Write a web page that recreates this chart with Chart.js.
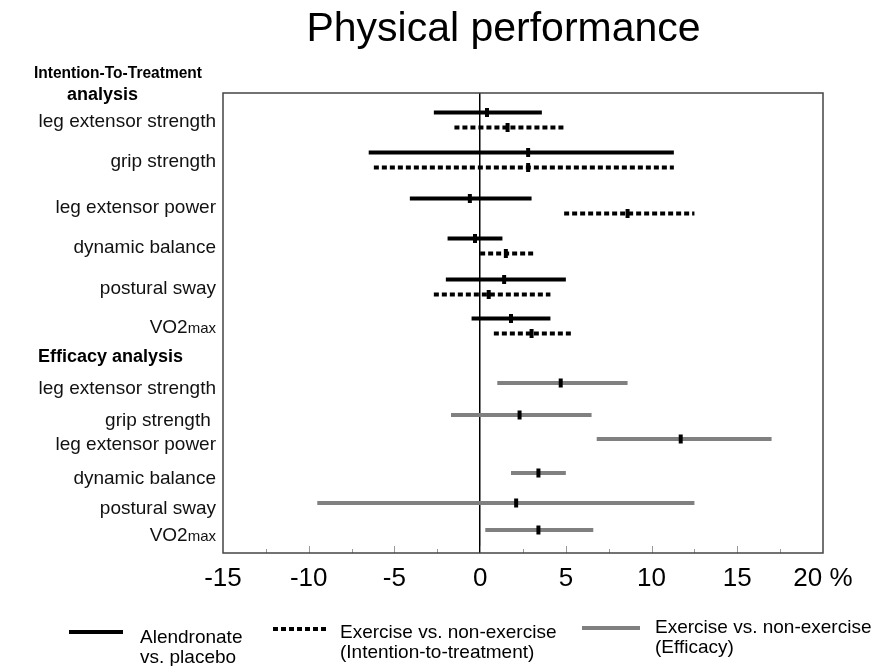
<!DOCTYPE html>
<html>
<head>
<meta charset="utf-8">
<script src="https://cdn.jsdelivr.net/npm/chart.js@4.4.0/dist/chart.umd.min.js"></script>
<style>
  body { margin: 0; background: #fff; font-family: "Liberation Sans", Arial, sans-serif; color: #000; }
  #wrap { position: relative; width: 873px; height: 666px; }
  #title { position: absolute; left: 0; top: 7px; width: 1007px; text-align: center; font-size: 41px; line-height: 41px; }
  .leg { position: absolute; font-size: 19px; line-height: 20px; white-space: nowrap; }
  .sw { position: absolute; height: 4px; }
</style>
</head>
<body>
<div id="wrap">
  <canvas id="chart" width="873" height="666"></canvas>
  <div id="title">Physical performance</div>

  <div class="sw" style="left:69px;top:630px;width:54px;background:#000;"></div>
  <div class="leg" style="left:140px;top:627px;">Alendronate<br>vs. placebo</div>

  <div class="sw" style="left:273px;top:627px;width:56px;background:repeating-linear-gradient(to right,#000 0 5px,transparent 5px 8px);"></div>
  <div class="leg" style="left:340px;top:622px;">Exercise vs. non-exercise<br>(Intention-to-treatment)</div>

  <div class="sw" style="left:582px;top:626px;width:58px;background:#808080;"></div>
  <div class="leg" style="left:655px;top:617px;">Exercise vs. non-exercise<br>(Efficacy)</div>
</div>

<script>
// rows (y slots) and labels
const itemsITT = ['leg extensor strength', 'grip strength', 'leg extensor power', 'dynamic balance', 'postural sway', 'VO2max'];
const itemsEff = ['leg extensor strength', 'grip strength ', 'leg extensor power', 'dynamic balance', 'postural sway', 'VO2max'];
const rowsITT = [2.7, 6.7, 11.3, 15.3, 19.4, 23.3];
const rowsEff = [29.0, 32.2, 34.6, 38.0, 41.0, 43.7];

// Alendronate vs. placebo (ITT), % change
const alenLow  = [-2.7, -6.5, -4.1, -1.9, -2.0, -0.5];
const alenEst  = [0.4, 2.8, -0.6, -0.3, 1.4, 1.8];
const alenHigh = [3.6, 11.3, 3.0, 1.3, 5.0, 4.1];

// Exercise vs. non-exercise (ITT)
const exIttLow  = [-1.5, -6.2, 4.9, 0.0, -2.7, 0.8];
const exIttEst  = [1.6, 2.8, 8.6, 1.5, 0.5, 3.0];
const exIttHigh = [4.9, 11.3, 12.5, 3.1, 4.1, 5.3];

// Exercise vs. non-exercise (Efficacy)
const exEffLow  = [1.0, -1.7, 6.8, 1.8, -9.5, 0.3];
const exEffEst  = [4.7, 2.3, 11.7, 3.4, 2.1, 3.4];
const exEffHigh = [8.6, 6.5, 17.0, 5.0, 12.5, 6.6];

const xTicks = [-15, -10, -5, 0, 5, 10, 15, 20];

const PAIR = 0.75; // half gap between the two ITT lines of one row
const alenRows = rowsITT.map(r => r - PAIR);
const exIttRows = rowsITT.map(r => r + PAIR);

function intervals(low, high, rows, style) {
    return low.map((lo, i) => Object.assign({
        data: [{ x: lo, y: rows[i] }, { x: high[i], y: rows[i] }],
        showLine: true,
        pointRadius: 0,
        borderWidth: 4,
        borderCapStyle: 'butt',
        fill: false
    }, style));
}

function estimates(est, rows) {
    return {
        data: est.map((v, i) => ({ x: v, y: rows[i] })),
        pointStyle: 'line',
        rotation: 90,
        pointRadius: 4.5,
        borderWidth: 4,
        borderColor: '#000',
        backgroundColor: '#000',
        showLine: false
    };
}

const datasets = [
    estimates(alenEst, alenRows),
    estimates(exIttEst, exIttRows),
    estimates(exEffEst, rowsEff),
    ...intervals(alenLow, alenHigh, alenRows, { borderColor: '#000' }),
    ...intervals(exIttLow, exIttHigh, exIttRows, { borderColor: '#000', borderDash: [5, 3] }),
    ...intervals(exEffLow, exEffHigh, rowsEff, { borderColor: '#808080' })
];

const FONT = '"Liberation Sans", Arial, sans-serif';

// frame, inward ticks, row labels and group headers
const decorPlugin = {
    id: 'decor',
    afterDraw(chart) {
        const { ctx, chartArea: a, scales: { x, y } } = chart;
        ctx.save();

        // inward tick marks
        ctx.strokeStyle = '#999';
        ctx.lineWidth = 1;
        x.ticks.forEach(t => {
            if (t.value <= x.min || t.value >= x.max) return;
            const px = Math.round(x.getPixelForValue(t.value)) + 0.5;
            const len = t.value % 5 === 0 ? 7 : 4;
            ctx.beginPath();
            ctx.moveTo(px, a.bottom);
            ctx.lineTo(px, a.bottom - len);
            ctx.stroke();
        });

        // frame
        ctx.strokeStyle = '#444';
        ctx.lineWidth = 1.5;
        ctx.strokeRect(a.left, a.top, a.right - a.left, a.bottom - a.top);

        // row labels
        ctx.fillStyle = '#111';
        ctx.textAlign = 'right';
        ctx.textBaseline = 'alphabetic';
        const right = a.left - 7;
        const drawLabel = (txt, yv) => {
            const base = y.getPixelForValue(yv) + 6;
            if (txt === 'VO2max') {
                ctx.font = '15px ' + FONT;
                ctx.fillText('max', right, base);
                const w = ctx.measureText('max').width;
                ctx.font = '19px ' + FONT;
                ctx.fillText('VO2', right - w, base);
            } else {
                ctx.font = '19px ' + FONT;
                ctx.fillText(txt, right, base);
            }
        };
        itemsITT.forEach((t, i) => drawLabel(t, rowsITT[i] + 0.1));
        itemsEff.forEach((t, i) => drawLabel(t, rowsEff[i] + 0.45));

        // headers
        ctx.textAlign = 'left';
        ctx.fillStyle = '#000';
        ctx.font = 'bold 17px ' + FONT;
        ctx.fillText('Intention-To-Treatment', 34, y.getPixelForValue(-2.1) + 6, 168);
        ctx.font = 'bold 18px ' + FONT;
        ctx.fillText('analysis', 67, y.getPixelForValue(0.2) + 5);
        ctx.fillText('Efficacy analysis', 38, y.getPixelForValue(26.3) + 6);

        ctx.restore();
    }
};

new Chart(document.getElementById('chart'), {
    type: 'scatter',
    data: { datasets },
    options: {
        responsive: false,
        animation: false,
        layout: { padding: { left: 223, right: 50, top: 93, bottom: 73 } },
        plugins: {
            legend: { display: false },
            tooltip: { enabled: false },
            title: { display: false }
        },
        scales: {
            x: {
                type: 'linear',
                min: -15,
                max: 20,
                afterFit: s => { s.height = 40; },
                afterBuildTicks: s => {
                    const t = [];
                    for (let v = s.min; v <= s.max; v += 2.5) t.push({ value: v });
                    s.ticks = t;
                },
                border: { display: false },
                grid: {
                    drawTicks: false,
                    color: c => (c.tick && c.tick.value === 0) ? '#000' : 'rgba(0,0,0,0)',
                    lineWidth: 1.5
                },
                ticks: {
                    autoSkip: false,
                    maxRotation: 0,
                    padding: 10,
                    color: '#000',
                    font: { family: FONT, size: 26 },
                    callback: v => xTicks.includes(v) ? (v === 20 ? '20 %' : String(v)) : ''
                }
            },
            y: {
                type: 'linear',
                min: 0,
                max: 46,
                reverse: true,
                display: false
            }
        }
    },
    plugins: [decorPlugin]
});
</script>
</body>
</html>
